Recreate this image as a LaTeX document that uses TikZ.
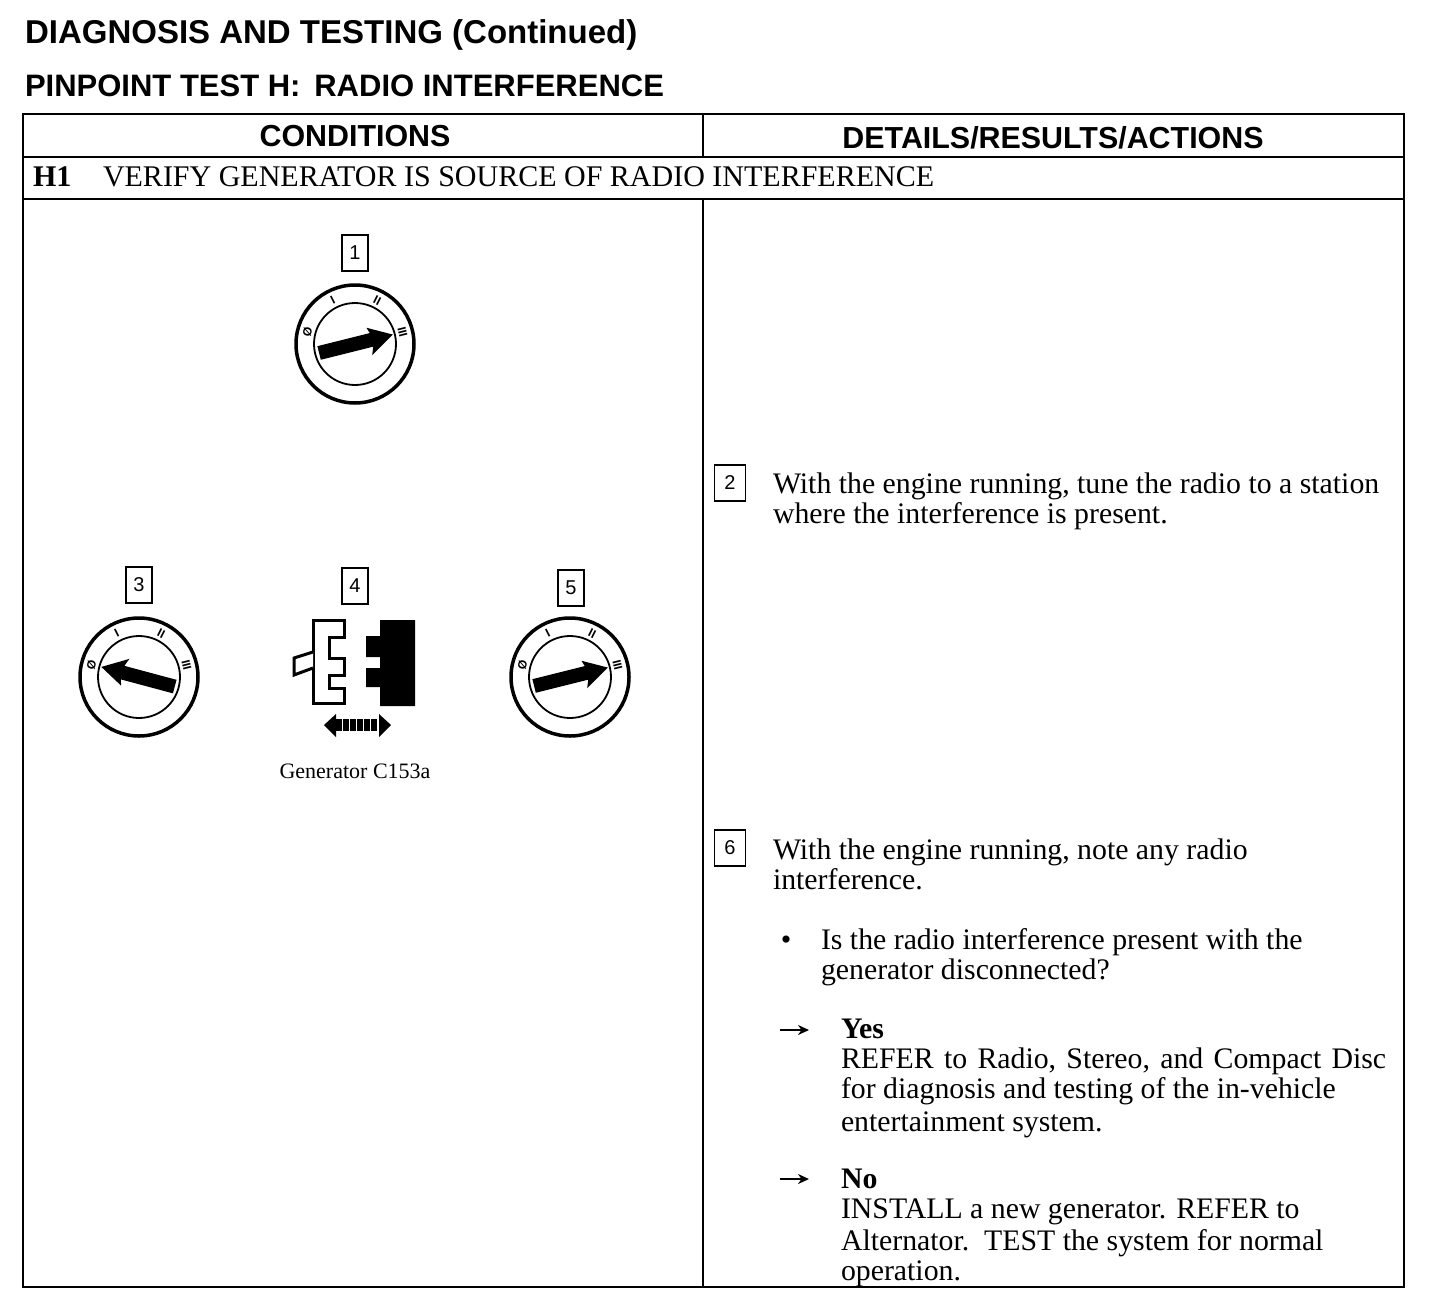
\documentclass[tikz,border=0pt]{standalone}
\usepackage{fontspec}
\setmainfont{Liberation Serif}
\setsansfont{Liberation Sans}
\usetikzlibrary{positioning,arrows.meta}
\newcommand{\keydial}[4]{%
  \begin{scope}[shift={(#2,#3)},y=1pt]
    \node[rim] (#1rim) at (0,0) {};
    \node[hub] (#1hub) at (0,0) {};
    \node[tick,rotate=76] (#1off) at (166:49) {Ø};
    \node[tick,rotate=27] (#1one) at (117:49) {I};
    \node[tick,rotate=-27] (#1two) at (63:49) {II};
    \node[tick,rotate=-76] (#1three) at (14:49) {III};
    \fill[rotate=#4] (-37,-7) -- (17,-7) -- (14,-15) -- (39,0) -- (15,13) -- (17,7) -- (-37,7) -- cycle;
  \end{scope}}
\begin{document}
\begin{tikzpicture}[
  x=1pt,y=-1pt,
  every node/.style={inner sep=0pt,outer sep=0pt},
  rim/.style={draw,circle,line width=3.5pt,minimum size=118pt},
  hub/.style={draw,circle,line width=1.8pt,minimum size=82pt},
  tick/.style={font=\sffamily\bfseries\fontsize{12}{12}\selectfont},
  numbox/.style={draw,line width=1.8pt,minimum width=26pt,minimum height=36pt,font=\sffamily\fontsize{20}{20}\selectfont},
  title/.style={anchor=base west,font=\sffamily\bfseries\fontsize{33}{33}\selectfont},
  colhead/.style={anchor=base,font=\sffamily\bfseries\fontsize{30.4}{30}\selectfont},
  body/.style={anchor=north west,align=left,font=\fontsize{29.8}{30}\selectfont},
  rule/.style={line width=2pt},
  pointer/.style={-{Stealth[length=11pt,width=10pt]},line width=2.4pt},
]
  \useasboundingbox (0,0) rectangle (1456,1314);

  \node[title] (chapter) at (25,44) {DIAGNOSIS AND TESTING (Continued)};
  \node[title,font=\sffamily\bfseries\fontsize{31}{31}\selectfont] (testname) at (25,96) {PINPOINT TEST H:\, RADIO INTERFERENCE};

  % table frame
  \draw[rule] (23,114) rectangle (1404,1287);
  \draw[rule] (23,157) -- (1404,157);
  \draw[rule] (23,199) -- (1404,199);
  \draw[rule] (703,114) -- (703,157);
  \draw[rule] (703,199) -- (703,1287);

  \node[colhead] (conditions) at (355,146) {CONDITIONS};
  \node[colhead] (details) at (1053,148) {DETAILS/RESULTS/ACTIONS};
  \node[anchor=base west,font=\bfseries\fontsize{30}{30}\selectfont] (hone) at (33,186) {H1};
  \node[anchor=base west,font=\fontsize{30}{30}\selectfont] (verify) at (103,186) {VERIFY GENERATOR IS SOURCE OF RADIO INTERFERENCE};

  % ignition dials
  \node[numbox] (numone) at (355,253) {1};
  \keydial{dialone}{355}{344}{14}
  \node[numbox] (numthree) at (139,585) {3};
  \keydial{dialthree}{139}{677}{165}
  \node[numbox] (numfour) at (355,586) {4};
  \node[numbox] (numfive) at (571,588) {5};
  \keydial{dialfive}{570}{677}{14}

  % generator connector
  \draw[line width=3pt,fill=white] (313,620) -- (344,620) -- (344,637) -- (329,637) -- (329,658) -- (344,658) -- (344,675)
    -- (329,675) -- (329,688) -- (344,688) -- (344,703) -- (313,703) -- cycle;
  \draw[line width=3pt,fill=white] (313,652) -- (294,658) -- (294,675) -- (313,668);
  \fill (380,620) -- (415,620) -- (415,706) -- (380,706) -- (380,687) -- (366,687) -- (366,668) -- (380,668) -- (380,657)
    -- (366,657) -- (366,636) -- (380,636) -- cycle;
  \fill (324,725) -- (336,714) -- (336,737) -- cycle;
  \fill (391,725) -- (379,714) -- (379,737) -- cycle;
  \foreach \xpos in {336,343,350,357,364,371}
    \fill (\xpos,719) rectangle ++(6,12);
  \node[anchor=base,font=\fontsize{22}{22}\selectfont] (genlabel) at (355,778) {Generator C153a};

  % right column
  \node[numbox,minimum width=31pt] (numtwo) at (730,483) {2};
  \node[body] (steptwo) at (773,473) {With the engine running, tune the radio to a station\\where the interference is present.};
  \node[numbox,minimum width=31pt] (numsix) at (730,848) {6};
  \node[body] (stepsix) at (773,839) {With the engine running, note any radio\\interference.};
  \node[anchor=center,font=\fontsize{30}{30}\selectfont] (dot) at (786,943) {•};
  \node[body] (question) at (821,929) {Is the radio interference present with the\\generator disconnected?};

  \coordinate (yesfrom) at (780,1030);
  \coordinate (yesto) at (809,1030);
  \draw[pointer] (yesfrom) -- (yesto);
  \node[body] (yes) at (841,1019) {\textbf{Yes}\\{\spaceskip=10.3pt REFER to Radio, Stereo, and Compact Disc}\\for diagnosis and testing of the in-vehicle\\[3pt]entertainment system.};
  \coordinate (nofrom) at (780,1179);
  \coordinate (noto) at (809,1179);
  \draw[pointer] (nofrom) -- (noto);
  \node[body] (no) at (841,1169) {\textbf{No}\\INSTALL a new generator. REFER to\\[2pt]Alternator.\, TEST the system for normal\\operation.};
\end{tikzpicture}
\end{document}
